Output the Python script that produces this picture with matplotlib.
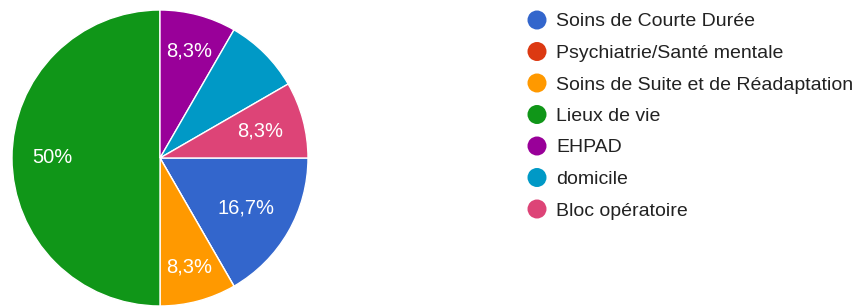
import matplotlib
matplotlib.use("Agg")
import matplotlib.pyplot as plt
import numpy as np

categories = ["Soins de Courte Durée", "Psychiatrie/Santé mentale",
              "Soins de Suite et de Réadaptation", "Lieux de vie", "EHPAD",
              "domicile", "Bloc opératoire"]
counts = [2, 0, 1, 6, 1, 1, 1]
pct_labels = ["16,7%", "", "8,3%", "50%", "8,3%", "", "8,3%"]
colors = ["#3366cc", "#dc3912", "#ff9900", "#109618", "#990099", "#0099c6", "#dd4477"]

label_radii = [0.67, 0.7, 0.76, 0.73, 0.75, 0.7, 0.70]
FONT = ["Liberation Sans", "DejaVu Sans"]

W, H = 861, 307
fig = plt.figure(figsize=(W / 100, H / 100), dpi=100)
fig.patch.set_facecolor("white")

cx, cy, r = 160, 158, 148
ax = fig.add_axes([(cx - r) / W, (H - cy - r) / H, 2 * r / W, 2 * r / H])
wedges, _ = ax.pie(counts, colors=colors, startangle=0, counterclock=False,
                   radius=1.0, wedgeprops=dict(edgecolor="white", linewidth=1.0))
ax.set_xlim(-1, 1)
ax.set_ylim(-1, 1)
ax.set_aspect("equal")
ax.axis("off")

for w, lab, rr in zip(wedges, pct_labels, label_radii):
    if not lab:
        continue
    ang = np.deg2rad((w.theta1 + w.theta2) / 2)
    ax.text(rr * np.cos(ang), rr * np.sin(ang), lab, color="white",
            fontsize=14.5, family=FONT, ha="center", va="center")

# legend in a pixel-coordinate overlay
lax = fig.add_axes([0, 0, 1, 1])
lax.set_xlim(0, W)
lax.set_ylim(H, 0)
lax.axis("off")
lx, ly0, dy = 537, 20, 31.5
for i, (name, col) in enumerate(zip(categories, colors)):
    y = ly0 + i * dy
    lax.add_patch(matplotlib.patches.Circle((lx, y), 9.5, facecolor=col,
                                            edgecolor="none"))
    lax.text(556, y, name, fontsize=14, color="#222222", family=FONT,
             ha="left", va="center_baseline")

fig.savefig("out.png", dpi=100)
